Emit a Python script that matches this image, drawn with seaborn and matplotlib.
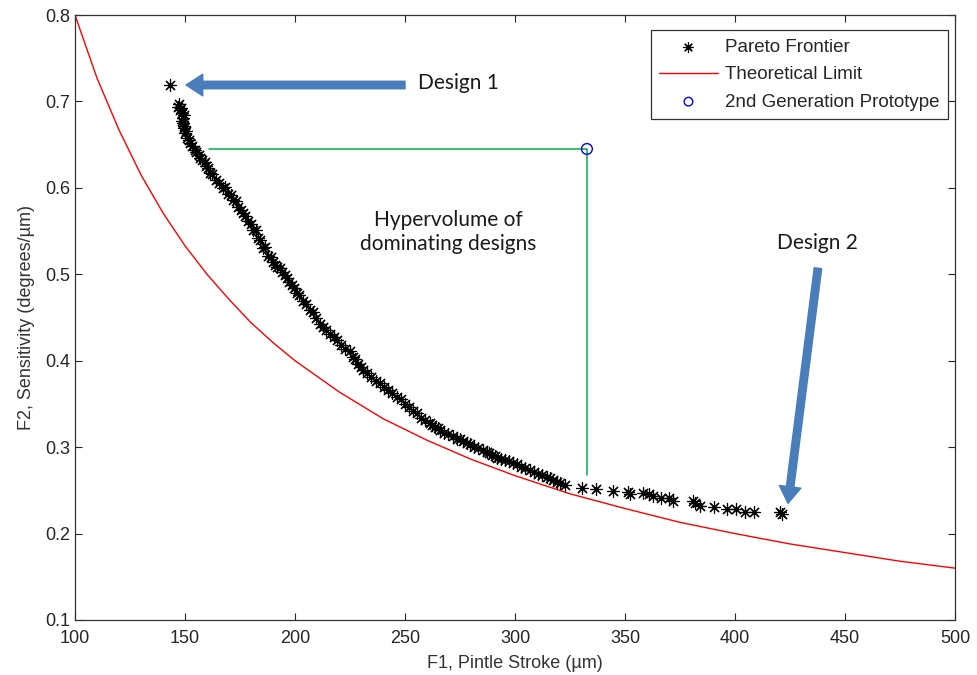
import matplotlib
matplotlib.use("Agg")
import matplotlib.pyplot as plt
import seaborn as sns
import pandas as pd

# ---------------- data ----------------
pareto_x = [143.2,
    146.8, 147.3, 147.7, 148.2, 148.6, 149.4, 149.1, 148.7, 149.1, 149.6, 149.5, 150.3,
    150.0, 150.9, 151.6, 152.3, 153.4, 154.5, 155.2, 156.4, 157.0, 157.7, 158.9, 159.5,
    160.6, 161.4, 162.5, 164.1, 165.4, 167.3, 168.1, 169.5, 170.9, 171.8, 173.0, 174.1,
    175.5, 176.4, 177.2, 178.6, 179.9, 180.9, 182.3, 183.2, 184.1, 185.5, 186.4, 187.7,
    188.9, 190.0, 190.8, 191.8, 193.2, 194.1, 195.5, 196.4, 197.3, 198.6, 199.5, 200.9,
    202.0, 203.6, 205.1, 206.8, 208.0, 209.5, 211.4, 212.7, 214.2, 215.9, 217.7, 219.1,
    220.9, 222.7, 224.8, 226.4, 227.3, 228.6, 230.0, 230.9, 232.7, 234.5, 236.8, 238.6,
    240.5, 242.3, 244.1, 246.4, 248.2, 250.0, 251.8, 253.6, 255.5, 257.3, 259.1, 261.4,
    262.5, 263.6, 264.8, 265.9, 267.7, 269.5, 271.6, 273.6, 275.0, 276.4, 278.2, 279.5,
    281.4, 283.2, 285.5, 287.3, 288.2, 289.5, 290.9, 291.8, 293.6, 295.5, 297.3, 299.1,
    300.9, 302.7, 304.5, 306.8, 308.6, 310.5, 312.3, 314.5, 316.0, 317.3, 319.1, 320.5,
    322.7,
    330.5, 336.8, 344.5, 351.4, 352.3, 358.2, 360.9, 362.7, 366.4, 370.0, 371.8, 380.9,
    381.8, 384.1, 390.5, 396.4, 400.5, 404.5, 408.6, 420.5, 421.4]
pareto_y = [0.719,
    0.694, 0.697, 0.690, 0.692, 0.687, 0.684, 0.681, 0.677, 0.675, 0.672, 0.669, 0.666,
    0.663, 0.658, 0.655, 0.652, 0.649, 0.644, 0.642, 0.638, 0.634, 0.632, 0.630, 0.625,
    0.623, 0.617, 0.616, 0.609, 0.606, 0.600, 0.601, 0.593, 0.592, 0.586, 0.585, 0.578,
    0.574, 0.571, 0.567, 0.562, 0.558, 0.551, 0.551, 0.542, 0.540, 0.530, 0.531, 0.521,
    0.520, 0.514, 0.511, 0.508, 0.507, 0.503, 0.499, 0.496, 0.491, 0.488, 0.484, 0.478,
    0.476, 0.469, 0.466, 0.459, 0.456, 0.449, 0.443, 0.439, 0.436, 0.431, 0.428, 0.424,
    0.418, 0.413, 0.411, 0.404, 0.402, 0.396, 0.393, 0.389, 0.386, 0.381, 0.376, 0.374,
    0.370, 0.366, 0.363, 0.358, 0.356, 0.350, 0.347, 0.342, 0.339, 0.334, 0.331, 0.328,
    0.326, 0.323, 0.322, 0.320, 0.316, 0.315, 0.313, 0.310, 0.309, 0.307, 0.305, 0.304,
    0.300, 0.299, 0.297, 0.294, 0.293, 0.291, 0.290, 0.288, 0.286, 0.285, 0.284, 0.282,
    0.280, 0.277, 0.276, 0.273, 0.271, 0.269, 0.268, 0.265, 0.264, 0.262, 0.260, 0.258,
    0.256,
    0.253, 0.251, 0.249, 0.248, 0.246, 0.247, 0.246, 0.244, 0.241, 0.241, 0.238, 0.238,
    0.235, 0.232, 0.231, 0.228, 0.228, 0.225, 0.225, 0.225, 0.223]

limit_x = [100, 110, 120, 130, 140, 150, 160, 170, 180, 190, 200, 220, 240, 260, 280,
           300, 325, 350, 375, 400, 425, 450, 475, 500]
limit_y = [0.800, 0.727, 0.667, 0.615, 0.571, 0.533, 0.500, 0.471, 0.444, 0.421, 0.400,
           0.364, 0.333, 0.308, 0.286, 0.267, 0.246, 0.229, 0.213, 0.200, 0.188, 0.178,
           0.168, 0.160]

proto_x = [332.7]
proto_y = [0.645]

hv_x = [161.0, 332.7, 332.7]
hv_y = [0.645, 0.645, 0.268]

design1_tip = (150.5, 0.719)
design1_tail = (250.0, 0.719)
design2_tip = (424.1, 0.235)
design2_tail = (437.7, 0.507)

x_ticks = [100, 150, 200, 250, 300, 350, 400, 450, 500]
y_ticks = [0.1, 0.2, 0.3, 0.4, 0.5, 0.6, 0.7, 0.8]

# ---------------- plotting ----------------
sns.set_theme(style="white")
plt.rcParams['font.family'] = ['Liberation Sans', 'DejaVu Sans']

fig = plt.figure(figsize=(9.77, 6.75), dpi=100)
ax = fig.add_axes([75/977, 1-620/675, 880/977, 605/675])

sns.lineplot(x=limit_x, y=limit_y, ax=ax, color='red', lw=1.0,
             label='Theoretical Limit', sort=False, zorder=2)
sns.scatterplot(x=pareto_x, y=pareto_y, ax=ax, marker=(8, 2, 0), s=75,
                color='black', linewidth=0.85, edgecolor='black',
                label='Pareto Frontier', zorder=3)
sns.scatterplot(x=proto_x, y=proto_y, ax=ax, marker='o', s=60,
                facecolor='none', edgecolor='blue', linewidth=1.0,
                label='2nd Generation Prototype', zorder=4)
ax.plot(hv_x, hv_y, color='#00B050', lw=1.1, zorder=1)

arrow_col = '#4A7EBB'
ax.annotate('', xy=design1_tip, xytext=design1_tail,
            arrowprops=dict(arrowstyle='simple,head_length=1.0,head_width=1.3,tail_width=0.45',
                            color=arrow_col, shrinkA=0, shrinkB=0), zorder=5)
ax.annotate('', xy=design2_tip, xytext=design2_tail,
            arrowprops=dict(arrowstyle='simple,head_length=1.0,head_width=1.3,tail_width=0.45',
                            color=arrow_col, shrinkA=0, shrinkB=0), zorder=5)

tf = ['Lato', 'DejaVu Sans']
ax.text(274.5, 0.721, 'Design 1', fontsize=15, family=tf, color='#1a1a1a', va='center', ha='center')
ax.text(437.5, 0.536, 'Design 2', fontsize=15, family=tf, color='#1a1a1a', va='center', ha='center')
ax.text(269.5, 0.549, 'Hypervolume of\ndominating designs', fontsize=15, family=tf,
        color='#1a1a1a', va='center', ha='center', linespacing=1.25)

ax.set_xlim(100, 500)
ax.set_ylim(0.1, 0.8)
ax.set_xticks(x_ticks)
ax.set_xticklabels([str(v) for v in x_ticks])
ax.set_yticks(y_ticks)
ax.set_yticklabels([f'{v:.1f}' for v in y_ticks])
ax.tick_params(direction='in', length=5, width=0.8, top=True, right=True,
               bottom=True, left=True, labelsize=13, colors='#262626')
ax.tick_params(axis='x', pad=7)
for sp in ax.spines.values():
    sp.set_visible(True)
    sp.set_color('#333333')
    sp.set_linewidth(0.9)

ax.set_xlabel('F1, Pintle Stroke (\u00b5m)', fontsize=13, color='#333333', labelpad=6)
ax.set_ylabel('F2, Sensitivity (degrees/\u00b5m)', fontsize=13, color='#333333', labelpad=7)

handles, labels = ax.get_legend_handles_labels()
order = [labels.index('Pareto Frontier'), labels.index('Theoretical Limit'),
         labels.index('2nd Generation Prototype')]
leg = ax.legend([handles[i] for i in order], [labels[i] for i in order],
                loc='upper right', bbox_to_anchor=(0.992, 0.975), fontsize=13.5,
                frameon=True, fancybox=False, edgecolor='#333333', framealpha=1,
                borderpad=0.45, handlelength=3.1, handletextpad=0.4,
                labelspacing=0.55, markerscale=0.8, borderaxespad=0)
leg.get_frame().set_linewidth(0.9)

fig.savefig('out.png', dpi=100)
